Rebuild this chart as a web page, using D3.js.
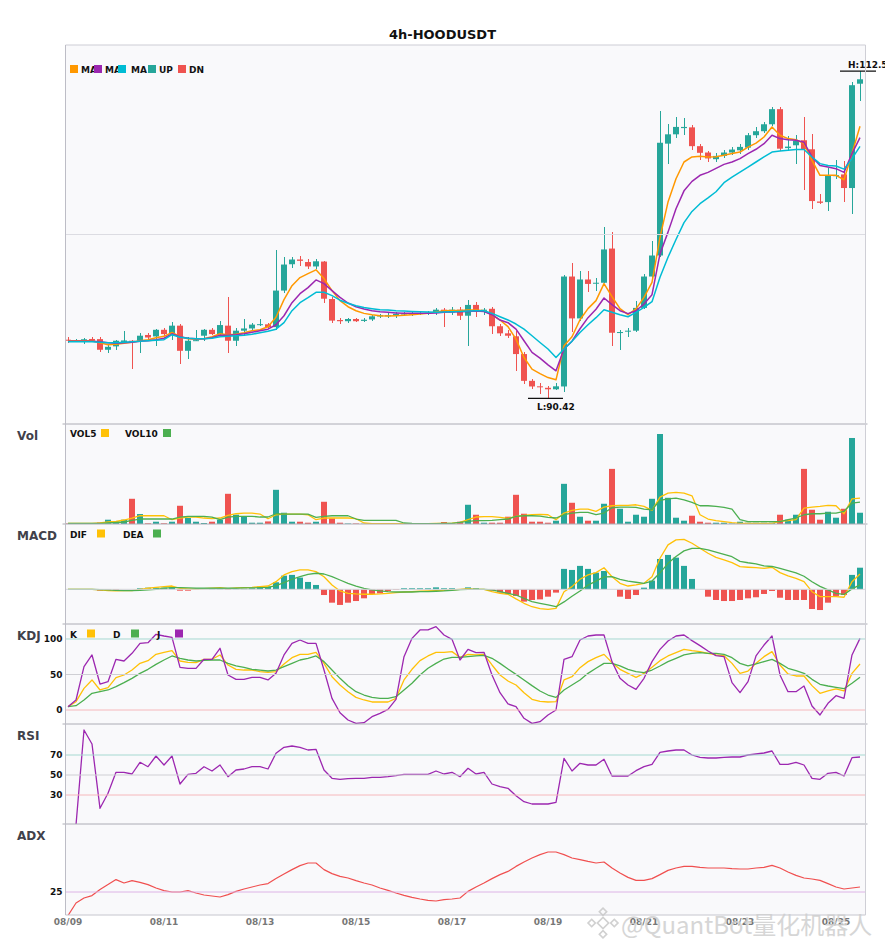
<!DOCTYPE html>
<html>
<head>
<meta charset="utf-8">
<script src="https://cdn.jsdelivr.net/npm/d3@7"></script>
<style>
  body { margin: 0; background: #fff; }
  svg { display: block; font-family: "DejaVu Sans", sans-serif; }
</style>
</head>
<body>
<svg id="chart" width="885" height="950"></svg>
<script>

// ---- data (4h candles, 08/09 00:00 onwards) ----

const tickIdx = [0, 12, 24, 36, 48, 60, 72, 84, 96];
const tickLabels = ['08/09', '08/11', '08/13', '08/15', '08/17', '08/19', '08/21', '08/23', '08/25'];

const open = [94.35,94.30,94.25,94.40,94.39,93.67,93.90,94.20,94.28,94.28,
  94.67,94.57,95.02,94.73,95.30,93.60,94.25,94.62,95.02,94.73,
  95.30,94.28,94.96,95.11,95.37,95.39,95.20,97.67,99.45,99.77,
  99.60,99.30,99.63,97.10,95.68,95.60,95.75,95.62,95.72,95.92,
  96.00,96.00,96.10,96.12,96.12,96.15,96.20,96.38,96.20,96.38,
  95.97,96.70,96.30,96.44,95.26,94.78,94.58,93.38,91.57,91.20,
  91.10,91.00,91.19,98.62,95.79,98.42,98.17,98.20,100.51,94.80,
  94.90,94.96,96.50,98.62,100.04,107.60,108.23,108.65,108.70,107.43,
  107.00,106.55,106.77,107.00,107.15,107.33,108.17,108.44,108.91,109.93,
  107.30,107.49,107.83,107.22,103.69,103.65,105.40,105.52,104.60,111.65];

const high = [94.55,94.40,94.45,94.50,94.55,94.06,94.30,94.96,94.30,94.78,
  94.80,95.07,95.12,95.57,95.41,94.50,95.02,95.07,95.14,95.64,
  97.21,95.11,95.72,95.50,95.75,95.50,100.38,99.97,99.93,100.00,
  99.80,99.80,99.70,97.21,95.85,95.80,95.80,95.80,96.00,96.10,
  96.15,96.20,96.25,96.30,96.25,96.30,96.48,96.48,96.55,96.53,
  97.04,96.92,96.50,96.53,95.41,95.00,94.96,93.49,91.70,91.45,
  91.25,91.40,98.69,99.52,98.96,98.96,98.50,102.00,101.60,95.00,
  95.14,96.94,98.80,100.99,109.79,108.96,109.40,109.30,108.83,107.55,
  107.10,106.98,107.20,107.40,107.60,108.35,108.70,109.05,110.10,110.10,
  108.15,108.20,109.40,108.28,104.20,105.93,106.50,106.45,111.78,112.50];

const low = [94.15,94.20,94.05,94.20,93.53,93.42,93.67,94.15,92.40,93.42,
  94.40,93.94,94.57,94.35,92.74,93.08,94.25,94.28,94.68,94.62,
  93.42,93.94,94.62,94.96,95.30,95.10,95.00,97.50,99.20,99.30,
  99.10,99.10,96.80,95.50,95.40,95.45,95.55,95.55,95.62,95.85,
  95.80,95.85,95.95,95.95,96.00,96.05,96.00,95.20,96.00,95.68,
  93.90,95.86,96.00,94.73,94.62,94.45,92.25,91.39,91.05,90.70,
  90.42,90.95,90.80,94.84,95.64,97.56,97.65,98.15,93.90,93.67,
  94.50,94.87,96.40,98.40,99.95,106.25,107.98,108.20,107.20,106.50,
  106.35,106.35,106.60,106.80,106.90,107.15,108.00,108.30,108.80,107.10,
  107.10,106.20,104.44,103.20,103.50,103.07,105.20,103.67,102.86,110.50];

const close = [94.30,94.30,94.38,94.28,93.67,93.87,94.28,94.30,94.22,94.62,
  94.50,95.02,94.73,95.30,93.60,94.28,94.32,95.02,94.73,95.34,
  94.28,94.96,95.11,95.37,95.40,95.20,97.67,99.43,99.77,99.68,
  99.30,99.65,97.12,95.64,95.60,95.75,95.60,95.70,95.93,96.00,
  96.00,96.10,96.12,96.12,96.15,96.17,96.38,96.20,96.38,95.97,
  96.70,96.31,96.38,95.26,94.78,94.62,93.38,91.57,91.19,91.15,
  91.00,91.20,98.62,95.79,98.42,98.12,98.20,100.45,94.82,94.87,
  94.96,96.50,98.62,100.04,107.66,108.23,108.73,108.73,107.43,106.98,
  106.60,106.77,107.00,107.20,107.38,108.17,108.44,108.91,109.93,107.26,
  107.40,107.78,107.22,103.72,103.60,105.42,105.47,104.60,111.55,111.95];

const ma5 = [94.28,94.28,94.28,94.28,94.15,94.01,94.04,94.11,94.18,94.28,
  94.35,94.48,94.58,94.84,94.55,94.41,94.38,94.41,94.55,94.75,
  94.69,94.72,94.82,94.96,95.02,95.23,95.87,97.06,98.00,98.55,
  98.82,99.07,98.48,97.67,96.99,96.58,96.31,96.13,96.04,95.97,
  95.95,95.97,96.00,96.04,96.09,96.13,96.22,96.31,96.33,96.33,
  96.36,96.36,96.31,96.04,95.68,95.23,94.39,93.15,92.36,92.06,
  91.79,91.64,93.94,94.55,95.70,96.45,96.99,98.14,97.26,96.45,
  96.04,96.43,97.21,98.23,101.26,103.65,105.23,106.36,106.70,106.74,
  106.70,106.72,106.81,106.93,107.03,107.37,107.64,108.05,108.73,108.17,
  107.94,107.87,107.60,106.47,105.46,105.46,105.46,105.16,106.93,108.78];

const ma10 = [94.25,94.25,94.25,94.25,94.21,94.15,94.11,94.15,94.18,94.25,
  94.28,94.35,94.45,94.75,94.55,94.45,94.41,94.41,94.48,94.65,
  94.65,94.69,94.75,94.85,94.96,95.06,95.36,95.97,96.85,97.46,
  97.87,98.39,98.14,97.67,97.21,96.83,96.58,96.43,96.31,96.24,
  96.20,96.16,96.13,96.13,96.13,96.13,96.16,96.20,96.22,96.24,
  96.26,96.29,96.26,96.04,95.68,95.50,95.07,94.28,93.49,93.11,
  92.65,92.25,93.72,94.25,95.09,95.84,96.41,97.17,96.72,96.31,
  96.11,96.31,96.76,97.39,100.15,101.62,103.20,104.41,105.05,105.46,
  105.66,105.93,106.20,106.36,106.59,106.93,107.22,107.60,108.17,107.94,
  107.87,107.83,107.69,106.70,106.13,106.02,105.91,105.66,106.93,108.01];

const ma20 = [94.21,94.21,94.21,94.21,94.18,94.15,94.15,94.18,94.21,94.25,
  94.28,94.31,94.35,94.69,94.52,94.45,94.41,94.41,94.45,94.55,
  94.58,94.62,94.65,94.72,94.82,94.92,95.06,95.50,96.31,96.85,
  97.19,97.55,97.56,97.33,97.02,96.81,96.65,96.53,96.45,96.38,
  96.36,96.31,96.29,96.26,96.24,96.22,96.20,96.22,96.24,96.26,
  96.29,96.31,96.31,96.13,95.90,95.68,95.41,95.07,94.62,94.16,
  93.72,93.15,93.72,94.25,94.84,95.36,95.84,96.37,96.20,96.04,
  95.90,96.20,96.53,96.92,98.57,99.92,101.12,102.26,103.02,103.54,
  103.93,104.35,104.96,105.34,105.68,106.02,106.36,106.70,107.03,107.10,
  107.15,107.20,107.20,106.70,106.25,106.13,106.09,105.88,106.59,107.42];

// volume in thousands
const volume = [0.5,0.5,1,0.5,1.5,4.3,2.3,4.3,25.3,10,
  0.7,2.3,0.7,2.3,18.3,6,2.3,1,2.3,4.3,
  30.3,9.3,7.6,1.3,1.3,2.6,34.3,11.3,2.3,2.3,
  1.3,2.3,22.3,5.6,1.3,0.5,0.5,0.3,0.3,0.3,
  0.3,0.3,0.3,0.3,0.3,0.3,0.5,2,0.7,2.3,
  19.3,9.3,1.3,1.3,1.3,7.3,29.3,10.3,2.3,2.3,
  1.3,3.3,40.3,21.3,7.3,3.3,3.3,20.3,55.3,15.3,
  2.3,9.3,7.3,25.3,90.3,26.3,6.3,3.3,8.3,2.3,
  1.3,1.3,1.3,0.5,2.3,1.3,1.3,1.3,1.3,9.3,
  4.3,9.3,55.3,14.3,4.3,12.3,6.3,15.3,86.3,11.3];

const vol5 = [0.5,0.5,0.5,0.5,1,2,2.5,4,6,8.3,
  8.3,8.3,8.3,4.3,6,7,7,6,5.3,6,
  8.7,10.3,11,11,10,5.3,9.3,10,10,10,
  9.3,4.3,6,6,6,6,5.3,1,0.3,0.3,
  0.3,0.3,0.3,0.3,0.3,0.3,0.5,0.7,0.8,1.7,
  4.3,7,7.3,7.3,6.7,5.7,7.7,8.7,9.3,9.7,
  9.3,4.3,11,13.7,15,15,12.7,17,18.3,18.7,
  18.7,19.3,17.7,13.7,27,31,31.7,31,28.3,9.3,
  5,3.3,2.3,1.3,0.7,0.7,0.7,0.7,0.7,2.7,
  3.3,4.3,16,17,17.7,18.7,18.3,10.3,25.3,26];

const vol10 = [0.5,0.5,0.5,0.5,0.5,1,1.5,2,3.7,5,
  5,5,5,5,7,7.7,7.7,7.7,7,4.3,
  7,7.7,7.7,7.7,7,7,10.3,10,10,10,
  10,6.7,7.7,8.3,8.3,8.3,5,3.7,3.7,3.7,
  3.7,3.7,1,0.5,0.3,0.3,0.3,0.7,0.7,1.7,
  2.7,3.3,3.3,3.7,4.3,5,7.7,8.3,8.3,8,
  6.7,6,9.3,11,11.7,11.7,9.3,11,16.3,17,
  17,16.7,15,14.3,23.7,25.3,26,24.3,21.7,18.3,
  18.3,17.7,16.7,15,4.3,2.3,2.3,2.3,2.3,2.3,
  4.3,6,9.3,10.3,10.3,11,11,12.7,21,22];

const dif = [0,0,0,0,-0.04,-0.09,-0.11,-0.09,-0.09,0,
  0.07,0.13,0.18,0.22,0.07,0.02,0.02,0.04,0.07,0.11,
  0.04,0.09,0.11,0.13,0.18,0.22,0.51,0.96,1.18,1.29,
  1.29,1.18,0.84,0.29,-0.11,-0.27,-0.31,-0.33,-0.33,-0.31,
  -0.27,-0.22,-0.18,-0.16,-0.13,-0.11,-0.09,-0.07,-0.04,0,
  0.04,0,0,-0.16,-0.27,-0.33,-0.64,-0.93,-1.16,-1.29,
  -1.33,-1.27,-0.16,0.18,0.67,0.96,1.11,1.44,0.84,0.4,
  0.22,0.29,0.4,0.84,2.07,2.96,3.29,3.33,3.07,2.73,
  2.4,2.13,1.96,1.78,1.51,1.47,1.44,1.4,1.47,1.11,
  0.89,0.73,0.51,-0.16,-0.49,-0.49,-0.49,-0.53,0.51,1.02];

const dea = [0,0,0,0,-0.02,-0.04,-0.07,-0.09,-0.09,-0.07,
  -0.04,0,0.07,0.11,0.11,0.09,0.07,0.07,0.07,0.07,
  0.07,0.07,0.09,0.09,0.11,0.13,0.24,0.44,0.67,0.84,
  1.0,1.07,1.02,0.84,0.62,0.4,0.22,0.07,-0.04,-0.11,
  -0.16,-0.18,-0.18,-0.18,-0.16,-0.16,-0.13,-0.11,-0.07,-0.02,
  0,0,0,-0.04,-0.16,-0.27,-0.38,-0.6,-0.82,-0.93,
  -1.04,-1.16,-0.84,-0.46,-0.11,0.28,0.55,0.83,0.84,0.66,
  0.54,0.47,0.4,0.55,1.1,1.73,2.18,2.56,2.73,2.73,
  2.62,2.47,2.33,2.17,1.86,1.77,1.7,1.56,1.52,1.39,
  1.24,1.09,0.87,0.5,0.2,-0.04,-0.27,-0.34,0.03,0.3];

const macdHist = [0,0,0,0,-0.09,-0.09,-0.09,0,0,0.07,
  0.11,0.11,0.11,0.13,-0.09,-0.09,-0.02,0,0.02,0.04,
  -0.04,0.02,0.04,0.07,0.18,0.18,0.47,0.91,0.96,0.78,
  0.49,0.29,-0.38,-0.89,-1.04,-0.89,-0.78,-0.6,-0.31,-0.27,
  -0.11,-0.04,0.07,0.07,0.07,0.07,0.13,0.07,0.07,0.02,
  0.13,0.07,0,-0.09,-0.22,-0.31,-0.44,-0.82,-0.71,-0.67,
  -0.49,-0.22,1.36,1.29,1.56,1.36,1.11,1.22,0,-0.49,
  -0.64,-0.38,0.11,0.58,2.02,2.29,2.11,1.56,0.69,0,
  -0.49,-0.71,-0.78,-0.78,-0.71,-0.6,-0.53,-0.31,-0.11,-0.56,
  -0.71,-0.71,-0.71,-1.31,-1.38,-0.89,-0.44,-0.38,0.96,1.44];

const kLine = [4.7,11.7,30.5,42.3,28.2,31.5,45.5,49.3,56.3,65.7,
  69.5,78.4,81.2,83.6,69,67.1,66.7,71.4,71.4,77.5,
  63.4,57.3,56.3,56.3,54,53,54,64.8,73.7,78.4,
  78.4,81.2,65.7,46.9,35.2,25.8,17.8,14.1,11.3,11.3,
  11.3,16.4,42.3,57.3,69.5,76.1,81.2,81.2,82.2,74,
  78.4,77.5,78.4,63.4,49.3,40.8,35.2,24.4,15,12.2,
  11.3,11.7,42.3,46.9,59.6,68.1,73.7,78.4,66.7,57.3,
  51.6,46,51.6,60.1,69.5,76.1,80.8,85.4,83.6,82.2,
  79.8,77.5,76.5,65.7,51.6,54.9,65.7,75.1,82.2,63.4,
  50.7,47.9,47.9,34.3,23.5,26.8,29.6,26.8,51.6,64.8];

const dLine = [4.7,6.1,14.1,23.5,25.8,28.2,32.9,38.5,44.6,51.6,
  57.3,64.3,70.4,76.1,72.8,70.4,69,70,70.4,70.4,
  65.7,62,60.1,57.3,56.3,54.9,56.3,61,65.7,70.4,
  72.8,76.1,68.1,56.3,44.6,34.3,25.8,21.1,17.8,16.4,
  16.4,18.8,28.2,37.6,49.3,58.7,65.7,71.8,74.2,74.2,
  75.1,76.1,77,72.8,65.7,57.7,50.2,42.3,34.3,26.8,
  21.1,17.8,28.2,35.2,42.3,51.6,58.7,65.7,65.7,62,
  57.3,54,52.6,56.3,62,68.1,72.8,77.5,79.8,80.8,
  79.8,79.8,78.4,73.7,65.7,62,64.8,68.1,71.4,65.7,
  58.7,55.4,51.6,43.2,36.2,33.8,31.9,30,37.6,46];

const jLine = [4.7,14.1,61,77.5,36.6,39.9,71.4,69,79.8,93.9,
  94.8,106.6,104.2,102.3,60.1,58.7,58.7,71.4,71.4,86.9,
  49.3,43.2,43.2,46,46,42.3,51.6,77.5,93.9,98.6,
  93.9,93.9,56.3,16.4,-3.8,-14.1,-18.8,-17.8,-9.4,-4.7,
  0.9,15,75.1,100.9,112.7,112.7,117.4,105.6,99.5,70.4,
  85.4,80.8,81.2,49.3,24.4,8.5,4.7,-11.7,-18.8,-16.4,
  -7,0,71.4,75.1,98.6,104.2,105.6,105.6,68.1,44.6,
  35.2,29.1,44.6,68.1,85.4,97.2,104.2,105.6,97.7,90.6,
  83.1,76.5,75.1,38.5,24.4,39.9,76.1,91.5,104.2,49.3,
  25.8,25.8,33.8,5.6,-7,9.4,20.2,16.4,77.5,100.9];

const rsi = [null,0,95,81,16.7,31.7,52.7,52.7,51,62.7,
  58.3,69,60,69,41,50.7,51.7,58.3,54,60,
  48.3,55,56,58.3,58.3,56,71.7,77.7,79,77.7,
  75,75.7,55,46.7,45.7,46.3,46.7,46.7,47.7,47.7,
  48.3,49.3,50.7,50.7,50.7,50.7,54,51,52.7,48.3,
  56.7,51,52.7,41,38.3,36.7,29.3,23.3,21,21,
  21,22.7,66.7,54,61.7,60,60,65.7,49,49,
  49,54.3,58.3,60.7,72.7,74,75,75,70,67.7,
  67,67,67.7,68,68,70,71,72,74,60.7,
  60.7,62.7,60,46.7,45.7,51.7,52.7,49,67.3,68];

const adx = [13.2,19.5,22,23.2,26.2,28.7,31.2,29.5,30.7,29.8,
  28.7,27,25.7,25,25,25.7,24.5,23.5,23,22.5,
  23.7,25.3,26.5,27.5,28.5,29.2,31.7,34,36.2,38.2,
  39.5,39.5,36.2,34.2,32.8,32,30.7,29.5,28.5,27,
  25.8,24.5,23.3,22.3,21.5,20.8,20.5,21.2,21.5,22,
  25.3,27.5,29.5,31.7,33.7,35.3,37.8,40,42,43.7,
  45,45,43.7,42,41.2,40.3,39.5,40,37,34.5,
  32.3,30.8,30.8,31.7,33.7,35.8,37,37.8,37.8,37.3,
  37,37,37,36.7,36.5,36.5,37,37.3,38.3,37,
  35,33.3,32,31.5,30.8,29.2,27.5,26.5,27,27.5];


// ---- layout ----

const N = close.length;
const PL = 65.5, PR = 865.5;

const colors = {
  up: '#26a69a', down: '#ef5350',
  ma5: '#ff9800', ma10: '#9c27b0', ma20: '#00bcd4',
  yellow: '#ffc107', green: '#4caf50', purple: '#9c27b0', adx: '#f04f4f'
};

const panels = {
  main: { top: 45, bottom: 424 },
  vol:  { top: 424, bottom: 524, label: 'Vol' },
  macd: { top: 524, bottom: 624, label: 'MACD' },
  kdj:  { top: 624, bottom: 724, label: 'KDJ' },
  rsi:  { top: 724, bottom: 824, label: 'RSI' },
  adx:  { top: 824, bottom: 915, label: 'ADX' }
};

const svg = d3.select('#chart');
const defs = svg.append('defs');

const x = d3.scaleBand().domain(d3.range(N)).range([64, 864])
  .paddingInner(0.25).paddingOuter(0.125);
const cx = i => x(i) + x.bandwidth() / 2;
const isUp = i => close[i] >= open[i];
const candleColor = i => isUp(i) ? colors.up : colors.down;

// price scale padded around the extremes
const lo = d3.min(low), hi = d3.max(high);
const pad = (hi - lo) * 0.08;
const yMain = d3.scaleLinear().domain([lo - pad, hi + pad]).range([424, 45]);
const yVol = d3.scaleLinear().domain([0, d3.max(volume) / 0.9]).range([524, 424]);
const yMacd = d3.scaleLinear().domain([-2.31, 4.35]).range([624, 524]);
const yKdj = d3.scaleLinear().domain([-19.7, 121.1]).range([724, 624]);
const yRsi = d3.scaleLinear().domain([0, 100]).range([825, 725]);
const yAdx = d3.scaleLinear().domain([13.5, 59]).range([915, 824]);


// ---- frame ----

svg.append('text')
  .attr('x', 442.5).attr('y', 38.5)
  .attr('text-anchor', 'middle')
  .attr('font-size', 13).attr('font-weight', 'bold').attr('fill', '#111')
  .text('4h-HOODUSDT');

svg.append('rect')
  .attr('x', PL).attr('y', 45)
  .attr('width', PR - PL).attr('height', 915 - 45)
  .attr('fill', '#f9f9fb');

// one clip per panel so lines stay inside
const groups = {};
Object.entries(panels).forEach(([id, p]) => {
  defs.append('clipPath').attr('id', 'clip-' + id)
    .append('rect')
    .attr('x', PL).attr('y', p.top)
    .attr('width', PR - PL).attr('height', p.bottom - p.top);
  groups[id] = svg.append('g').attr('clip-path', 'url(#clip-' + id + ')');

  if (p.label) {
    svg.append('text')
      .attr('x', 17).attr('y', p.top + 15.5)
      .attr('font-size', 12).attr('font-weight', 'bold').attr('fill', '#41414b')
      .text(p.label);
  }
});

function hLine(y, color, x1 = PL, x2 = PR) {
  svg.append('line')
    .attr('x1', x1).attr('x2', x2).attr('y1', y).attr('y2', y)
    .attr('stroke', color).attr('stroke-width', 1);
}

function drawLine(g, values, y, color, width) {
  g.append('path')
    .datum(values)
    .attr('fill', 'none')
    .attr('stroke', color)
    .attr('stroke-width', width)
    .attr('stroke-linejoin', 'round')
    .attr('d', d3.line()
      .defined(d => d != null)
      .x((d, i) => cx(i))
      .y(d => y(d)));
}

function legend(items, y) {
  items.forEach(it => {
    svg.append('rect')
      .attr('x', it.sq).attr('y', y - 8)
      .attr('width', 8).attr('height', 8)
      .attr('fill', it.color);
    svg.append('text')
      .attr('x', it.tx).attr('y', y)
      .attr('font-size', 9).attr('font-weight', 'bold').attr('fill', '#111')
      .text(it.text);
  });
}

function leftAxis(scale, values) {
  const g = svg.append('g')
    .attr('transform', 'translate(' + PL + ',0)')
    .call(d3.axisLeft(scale).tickValues(values).tickSize(0).tickPadding(3).tickFormat(d3.format('d')));
  g.select('.domain').remove();
  g.attr('font-family', 'DejaVu Sans').attr('font-size', 9).attr('font-weight', 'bold');
  g.selectAll('text').attr('fill', '#111');
}

// reference lines
hLine(yMain(d3.mean(yMain.domain())), '#dcdce2');
hLine(yMacd(0), '#d4d4da');
hLine(yKdj(100), '#a6d9d1'); hLine(yKdj(50), '#cfcfd4'); hLine(yKdj(0), '#f6b8bb');
hLine(yRsi(70), '#a6d9d1'); hLine(yRsi(50), '#cfcfd4'); hLine(yRsi(30), '#f6b8bb');
hLine(yAdx(25), '#ddb4e6');


// ---- main: candles + moving averages ----

const gMain = groups.main;

gMain.selectAll('line.wick')
  .data(d3.range(N))
  .join('line')
  .attr('class', 'wick')
  .attr('x1', cx).attr('x2', cx)
  .attr('y1', i => yMain(high[i]))
  .attr('y2', i => yMain(low[i]))
  .attr('stroke', candleColor)
  .attr('stroke-width', 1)
  .attr('shape-rendering', 'crispEdges');

gMain.selectAll('rect.body')
  .data(d3.range(N))
  .join('rect')
  .attr('class', 'body')
  .attr('x', i => x(i))
  .attr('width', x.bandwidth())
  .attr('y', i => yMain(Math.max(open[i], close[i])))
  .attr('height', i => Math.max(1, Math.abs(yMain(open[i]) - yMain(close[i]))))
  .attr('fill', candleColor);

drawLine(gMain, ma5, yMain, colors.ma5, 1.5);
drawLine(gMain, ma10, yMain, colors.ma10, 1.5);
drawLine(gMain, ma20, yMain, colors.ma20, 1.5);

// high / low markers
const iHi = d3.maxIndex(high), iLo = d3.minIndex(low);
svg.append('line')
  .attr('x1', cx(iHi) - 20).attr('x2', cx(iHi) + 16)
  .attr('y1', yMain(high[iHi])).attr('y2', yMain(high[iHi]))
  .attr('stroke', '#111').attr('stroke-width', 1.2);
svg.append('text')
  .attr('x', cx(iHi) - 12).attr('y', yMain(high[iHi]) - 3.5)
  .attr('font-size', 9).attr('font-weight', 'bold').attr('fill', '#111')
  .text('H:' + high[iHi].toFixed(2));
svg.append('line')
  .attr('x1', cx(iLo) - 20).attr('x2', cx(iLo) + 15)
  .attr('y1', yMain(low[iLo]) + 0.5).attr('y2', yMain(low[iLo]) + 0.5)
  .attr('stroke', '#111').attr('stroke-width', 1.2);
svg.append('text')
  .attr('x', cx(iLo) - 11).attr('y', yMain(low[iLo]) + 12.5)
  .attr('font-size', 9).attr('font-weight', 'bold').attr('fill', '#111')
  .text('L:' + low[iLo].toFixed(2));

// main legend: squares first, labels overlapped by the next square
[
  { sq: 70, text: 'MA', color: colors.ma5 },
  { sq: 94, text: 'MA', color: colors.ma10 },
  { sq: 118, text: 'MA', color: colors.ma20, tx: 131 },
  { sq: 148, text: 'UP', color: colors.up },
  { sq: 178, text: 'DN', color: colors.down }
].forEach(it => {
  svg.append('text')
    .attr('x', it.tx || it.sq + 11).attr('y', 72.5)
    .attr('font-size', 9).attr('font-weight', 'bold').attr('fill', '#111')
    .text(it.text);
  svg.append('rect')
    .attr('x', it.sq).attr('y', 65)
    .attr('width', 8).attr('height', 8)
    .attr('fill', it.color);
});


// ---- volume ----

groups.vol.selectAll('rect')
  .data(d3.range(N))
  .join('rect')
  .attr('x', i => x(i))
  .attr('width', x.bandwidth())
  .attr('y', i => yVol(volume[i]))
  .attr('height', i => yVol(0) - yVol(volume[i]))
  .attr('fill', candleColor);

drawLine(groups.vol, vol5, yVol, colors.yellow, 1.3);
drawLine(groups.vol, vol10, yVol, colors.green, 1.3);
legend([
  { tx: 70, sq: 101, text: 'VOL5', color: colors.yellow },
  { tx: 125, sq: 163, text: 'VOL10', color: colors.green }
], 437);


// ---- MACD ----

groups.macd.selectAll('rect')
  .data(d3.range(N))
  .join('rect')
  .attr('x', i => x(i))
  .attr('width', x.bandwidth())
  .attr('y', i => yMacd(Math.max(0, macdHist[i])))
  .attr('height', i => Math.abs(yMacd(macdHist[i]) - yMacd(0)))
  .attr('fill', i => macdHist[i] >= 0 ? colors.up : colors.down);

drawLine(groups.macd, dif, yMacd, colors.yellow, 1.3);
drawLine(groups.macd, dea, yMacd, colors.green, 1.3);
legend([
  { tx: 70, sq: 97, text: 'DIF', color: colors.yellow },
  { tx: 123, sq: 153, text: 'DEA', color: colors.green }
], 537.5);


// ---- KDJ ----

drawLine(groups.kdj, kLine, yKdj, colors.yellow, 1.3);
drawLine(groups.kdj, dLine, yKdj, colors.green, 1.3);
drawLine(groups.kdj, jLine, yKdj, colors.purple, 1.3);
leftAxis(yKdj, [0, 50, 100]);
legend([
  { tx: 70, sq: 87, text: 'K', color: colors.yellow },
  { tx: 113, sq: 131, text: 'D', color: colors.green },
  { tx: 157, sq: 175, text: 'J', color: colors.purple }
], 637.5);


// ---- RSI ----

drawLine(groups.rsi, rsi, yRsi, colors.purple, 1.3);
leftAxis(yRsi, [30, 50, 70]);


// ---- ADX ----

drawLine(groups.adx, adx, yAdx, colors.adx, 1.2);
leftAxis(yAdx, [25]);


// ---- borders & time axis ----

hLine(45, '#cdcdd5');
['vol', 'macd', 'kdj', 'rsi', 'adx'].forEach(id => hLine(panels[id].top, '#acacb5', PL - 3, PR + 2));
hLine(915, '#c6c6ce');
[PL, PR].forEach(xx => {
  svg.append('line')
    .attr('x1', xx).attr('x2', xx).attr('y1', 45).attr('y2', 915)
    .attr('stroke', xx === PL ? '#bdbdc6' : '#cfcfd6').attr('stroke-width', 1);
});

const xAxis = svg.append('g')
  .attr('transform', 'translate(0,915)')
  .call(d3.axisBottom(x)
    .tickValues(tickIdx)
    .tickFormat((d) => tickLabels[tickIdx.indexOf(d)])
    .tickSize(0).tickPadding(3.5));
xAxis.select('.domain').remove();
xAxis.attr('font-family', 'DejaVu Sans').attr('font-size', 9).attr('font-weight', 'bold');
xAxis.selectAll('text').attr('fill', '#777');


// ---- watermark ----

const wm = svg.append('g').attr('opacity', 0.85);
const logo = wm.append('g').attr('transform', 'translate(603,923) rotate(45)')
  .attr('fill', 'none').attr('stroke', '#c9c9c9').attr('stroke-width', 1.6);
[[0, 0, 4], [-8, -8, 2.6], [8, 8, 2.6], [-8, 8, 2.6], [8, -8, 2.6]].forEach(([dx, dy, s]) => {
  logo.append('rect').attr('x', dx - s).attr('y', dy - s).attr('width', 2 * s).attr('height', 2 * s);
});
wm.append('text')
  .attr('x', 621).attr('y', 934)
  .attr('font-family', '"Noto Sans CJK SC", "Noto Sans", sans-serif')
  .attr('font-size', 24)
  .attr('fill', '#cfcfcf')
  .text('@QuantBot量化机器人');

</script>
</body>
</html>
